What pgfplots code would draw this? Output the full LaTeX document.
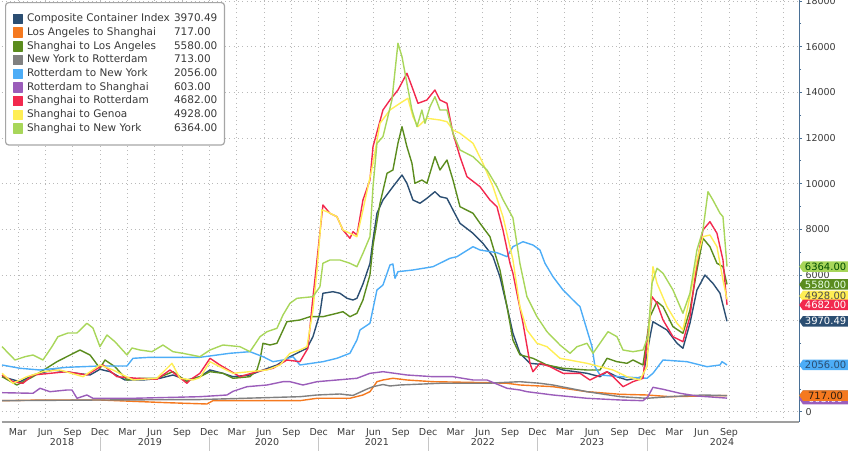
\documentclass[border=0pt]{standalone}
\usepackage{fontspec}
\setmainfont{DejaVu Sans}
\usepackage{pgfplots}
\pgfplotsset{compat=1.18}
\usetikzlibrary{shapes.symbols}

\definecolor{cComp}{HTML}{2B4E72}
\definecolor{cLASH}{HTML}{F5791F}
\definecolor{cSHLA}{HTML}{5B8C1E}
\definecolor{cNYR}{HTML}{808080}
\definecolor{cRNY}{HTML}{4DADF7}
\definecolor{cRSH}{HTML}{9B5DBA}
\definecolor{cSHR}{HTML}{F2294E}
\definecolor{cSHG}{HTML}{FFEE55}
\definecolor{cSHNY}{HTML}{A8D65A}
\definecolor{axblue}{HTML}{4A7096}
\definecolor{txt}{HTML}{3A3A3A}

\tikzset{tag/.style={signal, signal to=west, signal pointer angle=110, anchor=west,
  minimum width=49pt, minimum height=10.5pt, inner sep=0.5pt, draw=none,
  font=\fontsize{10}{10}\selectfont},
  yr/.style={font=\fontsize{9.5}{10}\selectfont, text=txt, yshift=-20.3pt},
  sep/.style={gray!45, line width=0.8pt}}

\begin{document}
\begin{tikzpicture}
\begin{axis}[
  at={(0,0)}, anchor=south west,
  scale only axis, width=797.5pt, height=421.7pt,
  xmin=2018.10, xmax=2025.39, ymin=-430, ymax=18041,
  axis x line*=bottom, axis y line*=right,
  x axis line style={draw=gray!75, line width=2pt, -},
  y axis line style={draw=axblue, line width=1pt, -},
  xtick={2018.25,2018.5,2018.75,2019,2019.25,2019.5,2019.75,2020,2020.25,2020.5,2020.75,2021,2021.25,2021.5,2021.75,2022,2022.25,2022.5,2022.75,2023,2023.25,2023.5,2023.75,2024,2024.25,2024.5,2024.75,2025,2025.25},
  xticklabels={Mar,Jun,Sep,Dec,Mar,Jun,Sep,Dec,Mar,Jun,Sep,Dec,Mar,Jun,Sep,Dec,Mar,Jun,Sep,Dec,Mar,Jun,Sep,Dec,Mar,Jun,Sep,{},{}},
  xtick style={draw=none},
  ytick={0,2000,4000,6000,8000,10000,12000,14000,16000,18000},
  scaled y ticks=false,
  minor y tick num=1,
  ytick style={draw=axblue, line width=0.8pt},
  tick align=outside,
  major tick length=3pt, minor tick length=2pt,
  /pgf/number format/assume math mode=true,
  /pgf/number format/1000 sep={},
  yticklabel style={font=\fontsize{9.5}{10}\selectfont, text=txt, /pgf/number format/fixed, /pgf/number format/precision=0},
  xticklabel style={font=\fontsize{9.5}{10}\selectfont, text=txt},
  grid=major,
  major grid style={gray!55, line width=0.8pt, dash pattern=on 0.8pt off 3.5pt},
  legend cell align=left,
  legend image code/.code={\fill[#1, sharp corners] (0pt,-4.5pt) rectangle (9pt,4.5pt);},
  legend style={at={(rel axis cs:0.0044,0.9952)}, anchor=north west,
    draw=gray!70, line width=1.2pt, rounded corners=3pt, fill=white,
    font=\fontsize{10.5}{12}\selectfont, text=txt,
    inner xsep=7pt, inner ysep=9.5pt, row sep=0pt,
    /tikz/every odd column/.append style={column sep=4pt},
    nodes={inner sep=0pt, text height=7.6pt, text depth=2.3pt, inner ysep=1.9pt}},
  every axis plot/.append style={line width=1.4pt, line join=round},
]
\addplot[color=cComp] table {
2018.105 1542
2018.269 1323
2018.388 1616
2018.570 1835
2018.790 1690
2018.909 1616
2019.000 1866
2019.092 1761
2019.229 1397
2019.393 1397
2019.549 1472
2019.667 1616
2019.795 1397
2019.914 1542
2020.006 1835
2020.124 1690
2020.216 1542
2020.371 1616
2020.490 1835
2020.618 2054
2020.737 2418
2020.828 2637
2020.892 2786
2020.947 3294
2021.011 4319
2021.038 5195
2021.130 5265
2021.194 5195
2021.258 4976
2021.313 4901
2021.349 4976
2021.404 5600
2021.468 6500
2021.496 7529
2021.532 8699
2021.587 9281
2021.678 9864
2021.761 10376
2021.806 10012
2021.861 9281
2021.925 9137
2021.989 9356
2022.062 9645
2022.108 9426
2022.172 9356
2022.227 8843
2022.291 8261
2022.410 7823
2022.501 7385
2022.593 6798
2022.657 5900
2022.721 4608
2022.775 3443
2022.839 2567
2022.931 2128
2023.086 2054
2023.233 1835
2023.452 1690
2023.571 1542
2023.635 1761
2023.726 1542
2023.818 1397
2023.964 1542
2024.028 3294
2024.055 3951
2024.183 3587
2024.275 3005
2024.329 2786
2024.393 3881
2024.457 5339
2024.530 5996
2024.603 5633
2024.668 5195
2024.732 3970
};
\addlegendentry{\makebox[147pt][l]{Composite Container Index}3970.49}
\addplot[color=cLASH] table {
2018.105 491
2018.479 521
2019.000 521
2019.613 403
2019.978 346
2020.033 491
2020.828 491
2020.984 596
2021.285 596
2021.404 740
2021.468 885
2021.532 1323
2021.587 1397
2021.678 1472
2021.806 1397
2022.044 1323
2022.538 1279
2022.721 1253
2022.839 1178
2023.022 1134
2023.141 1104
2023.452 885
2023.754 771
2024.000 740
2024.211 666
2024.512 696
2024.732 717
};
\addlegendentry{\makebox[147pt][l]{Los Angeles to Shanghai}717.00}
\addplot[color=cSHLA] table {
2018.105 1542
2018.241 1178
2018.388 1542
2018.607 2199
2018.817 2711
2018.909 2492
2019.000 1910
2019.046 2273
2019.137 1980
2019.247 1397
2019.366 1472
2019.521 1472
2019.667 1761
2019.795 1323
2019.823 1397
2019.914 1542
2020.006 1761
2020.124 1690
2020.216 1472
2020.371 1542
2020.435 1835
2020.463 2273
2020.490 3005
2020.554 2930
2020.618 3005
2020.709 3951
2020.828 4025
2020.920 4170
2021.038 4170
2021.166 4319
2021.221 4389
2021.285 4170
2021.349 4319
2021.404 4900
2021.468 6000
2021.496 7300
2021.560 9137
2021.624 10450
2021.678 10595
2021.724 11765
2021.761 12493
2021.806 11616
2021.852 10889
2021.879 10012
2021.943 10157
2021.989 10012
2022.062 11178
2022.108 10595
2022.172 11033
2022.227 10157
2022.291 8988
2022.410 8699
2022.474 8261
2022.565 7674
2022.657 6200
2022.721 4608
2022.775 3149
2022.839 2500
2022.958 2347
2023.086 2054
2023.233 1910
2023.452 1835
2023.571 1835
2023.635 2347
2023.726 2199
2023.818 2128
2023.872 2273
2023.964 2054
2024.028 4170
2024.092 4827
2024.147 4608
2024.238 3732
2024.329 3443
2024.393 4463
2024.457 6215
2024.512 7604
2024.576 7236
2024.640 6509
2024.695 6360
2024.732 5580
};
\addlegendentry{\makebox[147pt][l]{Shanghai to Los Angeles}5580.00}
\addplot[color=cNYR] table {
2018.105 491
2019.000 521
2019.914 540
2020.828 666
2020.984 740
2021.194 784
2021.313 720
2021.441 1000
2021.496 1104
2021.587 1200
2021.651 1134
2021.742 1178
2022.108 1253
2022.538 1253
2022.839 1323
2023.022 1253
2023.141 1178
2023.452 885
2023.754 666
2024.000 596
2024.211 666
2024.512 740
2024.732 713
};
\addlegendentry{\makebox[147pt][l]{New York to Rotterdam}713.00}
\addplot[color=cRNY] table {
2018.105 2054
2018.269 1910
2018.452 1835
2018.698 1953
2019.000 2010
2019.247 2010
2019.302 2347
2019.457 2391
2019.914 2391
2020.188 2567
2020.371 2637
2020.490 2418
2020.582 2199
2020.673 2273
2020.764 2418
2020.828 2054
2021.038 2199
2021.166 2347
2021.285 2567
2021.349 3149
2021.377 3587
2021.468 3881
2021.532 5339
2021.587 5558
2021.651 6434
2021.678 6478
2021.697 5852
2021.724 6142
2021.861 6215
2022.044 6360
2022.199 6727
2022.263 6798
2022.410 7236
2022.474 7091
2022.629 6973
2022.721 6798
2022.775 7236
2022.867 7455
2022.958 7310
2023.022 7091
2023.068 6509
2023.141 5921
2023.233 5339
2023.324 4901
2023.388 4608
2023.452 3587
2023.498 2856
2023.525 1980
2023.571 1616
2023.754 1542
2024.000 1472
2024.055 1690
2024.147 2273
2024.366 2199
2024.549 1980
2024.668 2054
2024.686 2199
2024.732 2056
};
\addlegendentry{\makebox[147pt][l]{Rotterdam to New York}2056.00}
\addplot[color=cRSH] table {
2018.105 841
2018.388 815
2018.452 1034
2018.543 885
2018.698 959
2018.744 959
2018.790 596
2018.881 740
2018.936 596
2019.302 596
2019.914 666
2020.161 740
2020.216 900
2020.344 1104
2020.527 1178
2020.673 1323
2020.737 1323
2020.856 1178
2020.984 1323
2021.166 1397
2021.349 1472
2021.468 1690
2021.587 1761
2021.806 1616
2022.044 1542
2022.227 1542
2022.410 1397
2022.538 1397
2022.721 1034
2022.839 959
2022.903 885
2023.141 740
2023.452 596
2023.754 521
2023.964 491
2024.009 666
2024.055 1077
2024.147 990
2024.302 815
2024.457 696
2024.732 603
};
\addlegendentry{\makebox[147pt][l]{Rotterdam to Shanghai}603.00}
\addplot[color=cSHR] table {
2018.105 1616
2018.205 1323
2018.296 1253
2018.388 1616
2018.543 1690
2018.698 1761
2018.881 1616
2019.028 2054
2019.155 1542
2019.338 1472
2019.521 1428
2019.640 1835
2019.795 1253
2019.823 1397
2019.914 1690
2020.006 2347
2020.097 2054
2020.280 1542
2020.435 1761
2020.582 1910
2020.709 2273
2020.828 2199
2020.901 2786
2020.938 4608
2020.984 6653
2021.038 9062
2021.102 8699
2021.166 8550
2021.221 7967
2021.285 7604
2021.313 7893
2021.349 7748
2021.404 9281
2021.468 10157
2021.496 11616
2021.587 13223
2021.651 13661
2021.724 14099
2021.806 14831
2021.852 14244
2021.907 13516
2021.989 13661
2022.062 14099
2022.108 13661
2022.172 13516
2022.227 12203
2022.291 11178
2022.355 10302
2022.474 9864
2022.565 9281
2022.629 8988
2022.684 7967
2022.748 6509
2022.775 6071
2022.867 3881
2022.931 2128
2022.958 1761
2023.022 2128
2023.114 1980
2023.233 1690
2023.388 1690
2023.479 1397
2023.571 1616
2023.635 1761
2023.690 1542
2023.781 1104
2023.872 1323
2023.964 1472
2024.046 5046
2024.092 4757
2024.147 4025
2024.238 3294
2024.329 3075
2024.393 4170
2024.457 6509
2024.512 7967
2024.576 8331
2024.640 7823
2024.695 6653
2024.732 4682
};
\addlegendentry{\makebox[147pt][l]{Shanghai to Rotterdam}4682.00}
\addplot[color=cSHG] table {
2018.105 1690
2018.205 1253
2018.333 1542
2018.479 1761
2018.634 1835
2018.845 1542
2019.000 2054
2019.119 1835
2019.302 1397
2019.521 1472
2019.658 2128
2019.731 1472
2019.850 1397
2019.914 1500
2020.006 2199
2020.124 1910
2020.216 1690
2020.527 1835
2020.645 2054
2020.737 2567
2020.828 2711
2020.892 2856
2020.947 4463
2020.984 6215
2021.029 8846
2021.075 8769
2021.166 8550
2021.221 7967
2021.285 7823
2021.349 7674
2021.404 8843
2021.496 10889
2021.560 12641
2021.651 13223
2021.742 13516
2021.815 13735
2021.861 12930
2021.907 12493
2021.989 12860
2022.108 12785
2022.172 12711
2022.227 12347
2022.291 12203
2022.410 11765
2022.501 10889
2022.593 9864
2022.684 8550
2022.748 7236
2022.775 6653
2022.839 4608
2022.903 3587
2022.995 3005
2023.086 2856
2023.205 2347
2023.452 2128
2023.571 1980
2023.690 1835
2023.818 1542
2023.936 1397
2024.000 1980
2024.055 6360
2024.092 5633
2024.183 4608
2024.275 3881
2024.329 3587
2024.393 5046
2024.457 6653
2024.512 7674
2024.576 7748
2024.640 7236
2024.695 5777
2024.732 4928
};
\addlegendentry{\makebox[147pt][l]{Shanghai to Genoa}4928.00}
\addplot[color=cSHNY] table {
2018.105 2856
2018.223 2273
2018.315 2418
2018.388 2492
2018.479 2273
2018.561 2856
2018.616 3294
2018.708 3456
2018.790 3456
2018.881 3880
2018.936 3675
2019.000 2856
2019.064 3368
2019.137 3075
2019.247 2492
2019.293 2799
2019.366 2711
2019.475 2637
2019.576 2930
2019.667 2637
2019.759 2565
2019.914 2418
2020.006 2711
2020.124 2930
2020.280 2856
2020.371 2637
2020.463 3294
2020.527 3513
2020.618 3662
2020.673 4244
2020.737 4757
2020.801 4976
2020.947 5046
2021.011 5484
2021.038 6509
2021.102 6653
2021.194 6653
2021.285 6509
2021.349 6360
2021.404 6947
2021.468 7674
2021.496 9864
2021.532 11765
2021.587 12054
2021.669 13661
2021.724 16145
2021.761 15558
2021.806 14393
2021.852 13223
2021.898 12493
2021.943 13223
2021.971 12641
2022.017 13368
2022.062 13806
2022.108 13223
2022.172 13223
2022.227 12203
2022.291 11472
2022.410 11178
2022.538 10595
2022.629 9864
2022.684 9300
2022.775 8500
2022.839 6500
2022.903 5046
2022.995 4170
2023.086 3513
2023.205 2930
2023.297 2567
2023.361 2856
2023.452 3005
2023.507 2567
2023.644 3513
2023.726 3294
2023.781 2711
2023.872 2637
2023.964 2711
2024.009 3294
2024.046 5633
2024.092 6290
2024.147 6071
2024.238 5339
2024.329 4319
2024.393 5195
2024.457 7091
2024.512 7967
2024.558 9645
2024.603 9281
2024.668 8699
2024.695 8550
2024.732 6364
};
\addlegendentry{\makebox[147pt][l]{Shanghai to New York}6364.00}

\coordinate (y2018) at (axis cs:2018.653,-430);
\coordinate (y2019) at (axis cs:2019.457,-430);
\coordinate (y2020) at (axis cs:2020.527,-430);
\coordinate (y2021) at (axis cs:2021.532,-430);
\coordinate (y2022) at (axis cs:2022.501,-430);
\coordinate (y2023) at (axis cs:2023.498,-430);
\coordinate (y2024) at (axis cs:2024.686,-430);
\coordinate (s2019) at (axis cs:2019,-430);
\coordinate (s2020) at (axis cs:2020,-430);
\coordinate (s2021) at (axis cs:2021,-430);
\coordinate (s2022) at (axis cs:2022,-430);
\coordinate (s2023) at (axis cs:2023,-430);
\coordinate (s2024) at (axis cs:2024,-430);

\coordinate (tNYR) at (axis cs:2025.39,713);
\coordinate (tRSH) at (axis cs:2025.39,560);
\coordinate (tLASH) at (axis cs:2025.39,717);
\coordinate (tRNY) at (axis cs:2025.39,2056);
\coordinate (tComp) at (axis cs:2025.39,3970);
\coordinate (tSHG) at (axis cs:2025.39,5077);
\coordinate (tSHR) at (axis cs:2025.39,4682);
\coordinate (tSHLA) at (axis cs:2025.39,5580);
\coordinate (tSHNY) at (axis cs:2025.39,6364);
\end{axis}

\node[yr] at (y2018) {2018};
\node[yr] at (y2019) {2019};
\node[yr] at (y2020) {2020};
\node[yr] at (y2021) {2021};
\node[yr] at (y2022) {2022};
\node[yr] at (y2023) {2023};
\node[yr] at (y2024) {2024};
\draw[sep] (s2019) ++(0,-15pt) -- ++(0,-14.3pt);
\draw[sep] (s2020) ++(0,-15pt) -- ++(0,-14.3pt);
\draw[sep] (s2021) ++(0,-15pt) -- ++(0,-14.3pt);
\draw[sep] (s2022) ++(0,-15pt) -- ++(0,-14.3pt);
\draw[sep] (s2023) ++(0,-15pt) -- ++(0,-14.3pt);
\draw[sep] (s2024) ++(0,-15pt) -- ++(0,-14.3pt);

\node[tag, fill=cNYR, text=white] at (tNYR) {713.00};
\node[tag, fill=cRSH, text=white] at (tRSH) {603.00};
\node[tag, fill=cLASH, text=black!75!brown] at (tLASH) {717.00};
\node[tag, fill=cRNY, text=cComp] at (tRNY) {2056.00};
\node[tag, fill=cComp, text=white] at (tComp) {3970.49};
\node[tag, fill=cSHG, text=black!70] at (tSHG) {4928.00};
\node[tag, fill=cSHR, text=white] at (tSHR) {4682.00};
\node[tag, fill=cSHLA, text=white!90!green] at (tSHLA) {5580.00};
\node[tag, fill=cSHNY, text=black!70!green] at (tSHNY) {6364.00};

\pgfresetboundingbox
\useasboundingbox (-1.5pt,-29.3pt) rectangle (846.5pt,421.7pt);
\end{tikzpicture}
\end{document}
